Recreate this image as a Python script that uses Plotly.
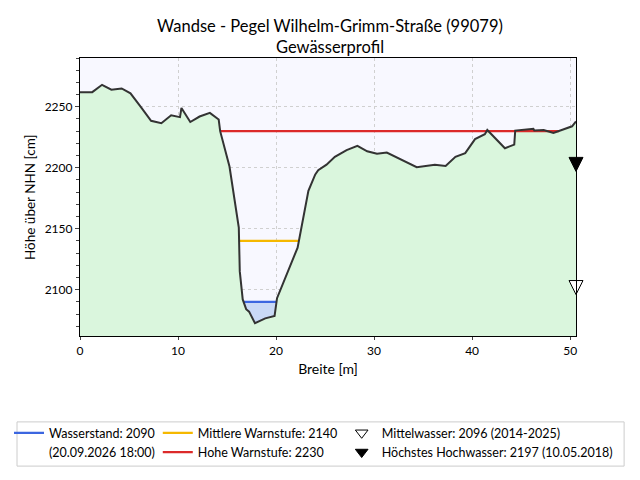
import numpy as np
import plotly.graph_objects as go

# Gewässerprofil (Breite in m, Höhe in cm über NHN)
breite = [0, 1.25, 2.25, 3.2, 4.25, 5.15, 6.2, 7.25, 8.3, 9.3, 10.2, 10.35,
          11.25, 12.2, 13.25, 14.15, 14.3, 15.25, 16.2, 16.3, 16.6, 16.95,
          17.25, 17.85, 18.9, 19.85, 20.1, 22.2, 23.3, 24.0, 24.3, 25.15,
          26.0, 27.2, 28.3, 29.3, 30.3, 31.3, 34.35, 36.2, 37.3, 38.3, 39.3,
          39.8, 40.3, 41.3, 41.55, 43.35, 44.3, 44.4, 46.25, 46.35, 47.3,
          48.3, 49.65, 50.2, 50.6]
hoehe = [2262, 2262, 2268, 2264, 2265, 2261, 2250, 2238.5, 2236.5, 2243,
         2241.5, 2249, 2237.5, 2242, 2245, 2239.5, 2230, 2201, 2151, 2115,
         2092, 2084, 2082, 2072.5, 2076.5, 2078.5, 2093, 2134.5, 2181,
         2194.5, 2198, 2202.5, 2209, 2214.5, 2218, 2213.5, 2211.5, 2212.5,
         2200.5, 2202.5, 2201.5, 2209, 2212, 2217.5, 2223.5, 2227.5, 2231,
         2216, 2219, 2230.5, 2232, 2230.5, 2231, 2228.5, 2232, 2234, 2238]

wasserstand = 2090
mittlere_warnstufe = 2140
hohe_warnstufe = 2230
mittelwasser = 2096
hoechstes_hw = 2197

bx = np.array(breite)
hy = np.array(hoehe)


def crossings(level):
    xs = []
    for i in range(len(bx) - 1):
        y0, y1 = hy[i], hy[i + 1]
        if y0 != y1 and (y0 - level) * (y1 - level) <= 0:
            xs.append(bx[i] + (level - y0) / (y1 - y0) * (bx[i + 1] - bx[i]))
    return min(xs), max(xs)


fig = go.Figure()

# Gelände
fig.add_trace(go.Scatter(x=breite, y=hoehe, mode="lines", fill="tozeroy",
                         fillcolor="#daf6dd", line=dict(width=0),
                         showlegend=False, hoverinfo="skip"))

# Wasserfläche
xl, xr = crossings(wasserstand)
inside = (bx > xl) & (bx < xr)
wx = [xl] + list(bx[inside]) + [xr]
wy = [wasserstand] + list(hy[inside]) + [wasserstand]
fig.add_trace(go.Scatter(x=wx, y=wy, mode="lines", fill="toself",
                         fillcolor="#c9d9f6", line=dict(width=0),
                         showlegend=False, hoverinfo="skip"))

levels = [
    (wasserstand, "#3b66e0", "Wasserstand: %d" % wasserstand),
    (mittlere_warnstufe, "#f5b800", "Mittlere Warnstufe: %d" % mittlere_warnstufe),
    (hohe_warnstufe, "#dc2a2a", "Hohe Warnstufe: %d" % hohe_warnstufe),
]
for i, (lvl, col, name) in enumerate(levels):
    x0, x1 = crossings(lvl)
    fig.add_trace(go.Scatter(x=[x0, x1], y=[lvl, lvl], mode="lines",
                             line=dict(color=col, width=2.2), name=name,
                             legend="legend" if i == 0 else "legend2"))
    if i == 0:
        fig.add_trace(go.Scatter(x=[None], y=[None], mode="lines",
                                 line=dict(color="rgba(0,0,0,0)", width=0),
                                 name="(20.09.2026 18:00)", legend="legend"))

# Profillinie
fig.add_trace(go.Scatter(x=breite, y=hoehe, mode="lines",
                         line=dict(color="#333333", width=2),
                         showlegend=False))

# Pegelmarken am rechten Rand (Spitze zeigt auf den Wert)
xmax = max(breite)
marks = [
    (mittelwasser, "white", "Mittelwasser: %d (2014-2025)" % mittelwasser),
    (hoechstes_hw, "black", "Höchstes Hochwasser: %d (10.05.2018)" % hoechstes_hw),
]
for val, col, name in marks:
    fig.add_trace(go.Scatter(x=[xmax], y=[val], mode="markers",
                             marker=dict(symbol="arrow-down", size=14, color=col,
                                         line=dict(color="black", width=1)),
                             cliponaxis=False, showlegend=False))
    fig.add_trace(go.Scatter(x=[None], y=[None], mode="markers",
                             marker=dict(symbol="triangle-down", size=11, color=col,
                                         line=dict(color="black", width=1)),
                             legend="legend3", name=name))

leg = dict(orientation="v", yanchor="top", xanchor="left", y=0.131,
           xref="container", yref="container",
           bgcolor="rgba(0,0,0,0)", borderwidth=0,
           font=dict(size=12.5, color="black"))

# Seite hat 8px Rand, daher 632x472
fig.update_layout(
    width=632, height=472,
    margin=dict(l=72, r=64, t=50, b=144, autoexpand=False),
    font=dict(family="Lato", size=12, color="black"),
    paper_bgcolor="white", plot_bgcolor="#f8f8ff",
    title=dict(text="Wandse - Pegel Wilhelm-Grimm-Straße (99079)<br>Gewässerprofil",
               x=0.5095, xanchor="center", y=0.95, yanchor="top",
               font=dict(size=16.5)),
    xaxis=dict(title=dict(text="Breite [m]", standoff=7), range=[0, xmax],
               dtick=10, ticks="outside", ticklen=3, showline=True,
               mirror=True, linecolor="black", linewidth=1.2, zeroline=False,
               showgrid=True, gridcolor="#d0d0d0", griddash="dot"),
    yaxis=dict(range=[2062, 2290], tickvals=[2100, 2150, 2200, 2250],
               ticks="outside", ticklen=4,
               showline=True, mirror=True,
               linecolor="black", linewidth=1.2, zeroline=False,
               showgrid=True, gridcolor="#d0d0d0", griddash="dot",
               minor=dict(dtick=10, ticks="outside", ticklen=2.5,
                          showgrid=False)),
    annotations=[dict(text="Höhe über NHN [cm]", textangle=-90,
                      xref="paper", yref="paper", x=-0.1008, y=0.5,
                      xanchor="center", yanchor="middle", showarrow=False,
                      font=dict(family="Lato", size=13.5, color="black"))],
    legend=dict(leg, x=0.0016),
    legend2=dict(leg, x=0.237),
    legend3=dict(leg, x=0.528),
    shapes=[dict(type="rect", xref="paper", yref="paper",
                 x0=-0.127, x1=1.097, y0=-0.468, y1=-0.309,
                 line=dict(color="#cccccc", width=1))],
)

fig.write_html("out.html")
